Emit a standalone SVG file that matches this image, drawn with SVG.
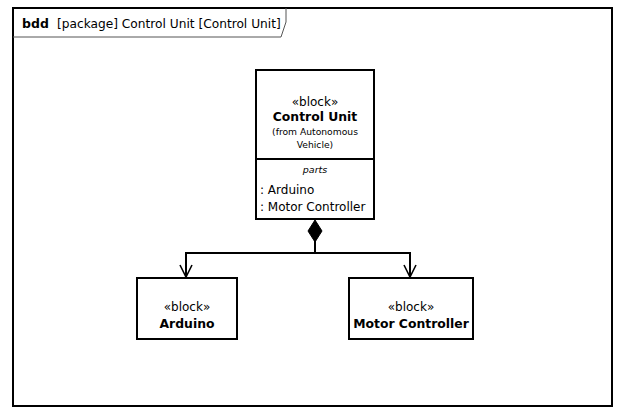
<svg xmlns="http://www.w3.org/2000/svg" width="629" height="415" viewBox="0 0 629 415">
<defs>
<style>
text{font-family:"DejaVu Sans","Liberation Sans",sans-serif;fill:#000}
.frame{fill:#fff;stroke:#000;stroke-width:2}
.block{fill:#fff;stroke:#000;stroke-width:2}
.conn{fill:none;stroke:#000;stroke-width:2}
.st{font-size:12px;text-anchor:middle}
.nm{font-size:12.4px;font-weight:bold;text-anchor:middle}
.sm{font-size:9.2px;text-anchor:middle}
.it{font-size:9.5px;font-style:italic;text-anchor:middle}
.pt{font-size:12px}
</style>
<marker id="open" markerWidth="14" markerHeight="14" refX="13" refY="7" orient="auto" markerUnits="userSpaceOnUse" viewBox="0 0 14 14">
<path d="M1,1 L13,7 L1,13" fill="none" stroke="#000" stroke-width="1.6"/>
</marker>
</defs>
<rect width="629" height="415" fill="#fff"/>
<g id="frame">
<rect class="frame" x="13" y="8" width="599" height="398"/>
<path d="M13,37 H281 L286,22 V8" fill="none" stroke="#555" stroke-width="1"/>
<text x="22" y="28" style="font-size:12.5px;font-weight:bold">bdd</text>
<text x="57" y="28" style="font-size:12.2px">[package] Control Unit [Control Unit]</text>
</g>
<g id="connectors">
<path class="conn" d="M315,240 V253 H186 V277" marker-end="url(#open)"/>
<path class="conn" d="M315,253 H410 V277" marker-end="url(#open)"/>
<path d="M315,220 L322,231 L315,242 L308,231 Z" fill="#000" stroke="#000" stroke-width="1"/>
</g>
<g id="control-unit">
<rect class="block" x="256" y="70" width="118" height="149"/>
<line x1="256" y1="159" x2="374" y2="159" stroke="#000" stroke-width="2"/>
<text class="st" x="315" y="106">«block»</text>
<text class="nm" x="315" y="121">Control Unit</text>
<text class="sm" x="315" y="135">(from Autonomous</text>
<text class="sm" x="315" y="148">Vehicle)</text>
<text class="it" x="315" y="173">parts</text>
<text class="pt" x="260" y="194">: Arduino</text>
<text class="pt" x="260" y="211">: Motor Controller</text>
</g>
<g id="arduino">
<rect class="block" x="137" y="278" width="100" height="61"/>
<text class="st" x="187" y="311">«block»</text>
<text class="nm" x="187" y="328">Arduino</text>
</g>
<g id="motor-controller">
<rect class="block" x="349" y="278" width="124" height="61"/>
<text class="st" x="411" y="311">«block»</text>
<text class="nm" x="411" y="328">Motor Controller</text>
</g>
</svg>
